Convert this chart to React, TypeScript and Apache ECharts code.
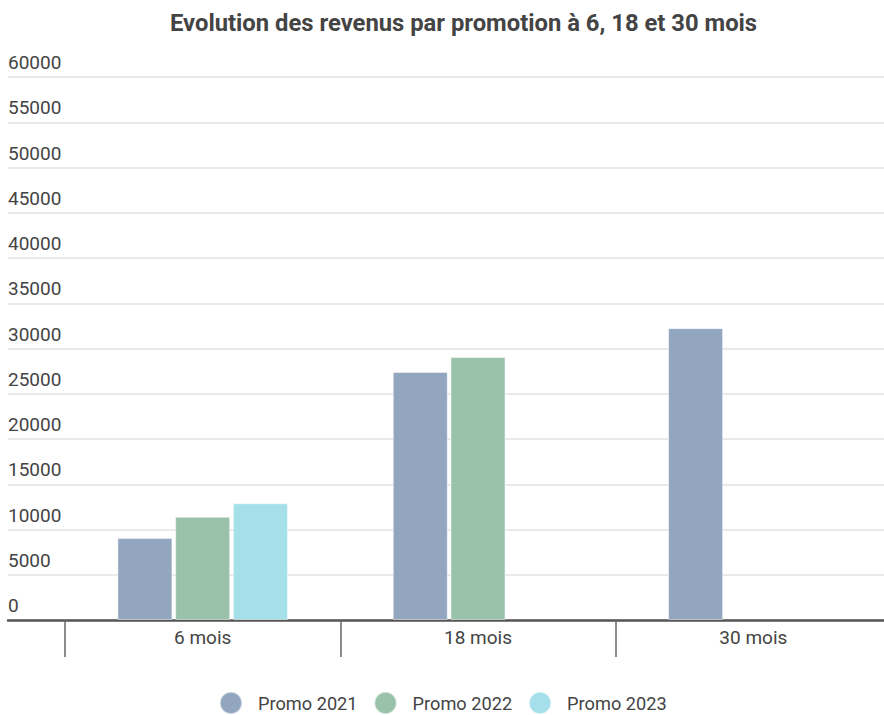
import React, { useEffect, useRef } from "react";
import * as echarts from "echarts";

const categories = ["6 mois", "18 mois", "30 mois"];
const seriesNames = ["Promo 2021", "Promo 2022", "Promo 2023"];
const promo2021 = [9050, 27400, 32250];
const promo2022: (number | null)[] = [11400, 29050, null];
const promo2023: (number | null)[] = [12900, null, null];
const colors = ["#93a6c0", "#9ac2aa", "#a4dfea"];
const yMin = 0;
const yMax = 60000;
const yInterval = 5000;

export default function App() {
  const ref = useRef<HTMLDivElement>(null);
  useEffect(() => {
    if (!ref.current) return;
    const chart = echarts.init(ref.current, undefined, { renderer: "svg" });
    const font = "Roboto";
    const textColor = "#444444";
    const gridTop = 77;
    const gridBottom = 95;
    const dataSets = [promo2021, promo2022, promo2023];
    chart.setOption({
      animation: false,
      textStyle: { fontFamily: font },
      title: {
        text: "Evolution des revenus par promotion à 6, 18 et 30 mois",
        left: 165,
        top: 6,
        textStyle: { fontFamily: font, fontSize: 23.8, fontWeight: "bold", color: "#444444" },
      },
      legend: {
        data: seriesNames,
        bottom: 0,
        left: 219,
        padding: 0,
        icon: "circle",
        itemWidth: 22,
        itemHeight: 22,
        itemGap: 16,
        textStyle: { fontFamily: font, fontSize: 18.2, color: textColor, padding: [0, 0, 0, 11] },
      },
      grid: [
        { left: 8, right: 7, top: gridTop, bottom: gridBottom, containLabel: false },
        { left: 65, right: 0, top: gridTop, bottom: gridBottom, containLabel: false },
      ],
      xAxis: [
        {
          type: "category",
          gridIndex: 0,
          data: categories,
          axisLine: { show: true, lineStyle: { color: "#555555", width: 2.5 } },
          axisTick: { show: false },
          axisLabel: { show: false },
        },
        {
          type: "category",
          gridIndex: 1,
          data: categories,
          axisLine: { show: false },
          axisTick: { show: true, length: 37, lineStyle: { color: "#666666", width: 1.5 } },
          axisLabel: { show: true, fontFamily: font, fontSize: 19, color: textColor, margin: 8 },
        },
      ],
      yAxis: [
        {
          type: "value",
          gridIndex: 0,
          min: yMin,
          max: yMax,
          interval: yInterval,
          axisLine: { show: false },
          axisTick: { show: false },
          splitLine: { show: true, lineStyle: { color: "#e2e2e2", width: 1.5 } },
          axisLabel: {
            inside: true,
            margin: 0,
            align: "left",
            verticalAlign: "bottom",
            padding: [0, 0, 5, 0],
            fontFamily: font,
            fontSize: 19,
            color: textColor,
            formatter: (v: number) => String(v),
          },
        },
        {
          type: "value",
          gridIndex: 1,
          min: yMin,
          max: yMax,
          interval: yInterval,
          show: false,
          splitLine: { show: false },
        },
      ],
      series: seriesNames.map((name, i) => ({
        name,
        type: "bar",
        xAxisIndex: 1,
        yAxisIndex: 1,
        data: dataSets[i],
        barWidth: 55,
        barGap: "5%",
        itemStyle: { color: colors[i], borderColor: "rgba(255,255,255,0.45)", borderWidth: 1 },
      })),
    });
    return () => chart.dispose();
  }, []);
  return (
    <div style={{ position: "absolute", left: 0, top: 0, width: 884, height: 715, overflow: "hidden" }}>
      <div ref={ref} style={{ width: 891, height: 715 }} />
    </div>
  );
}
